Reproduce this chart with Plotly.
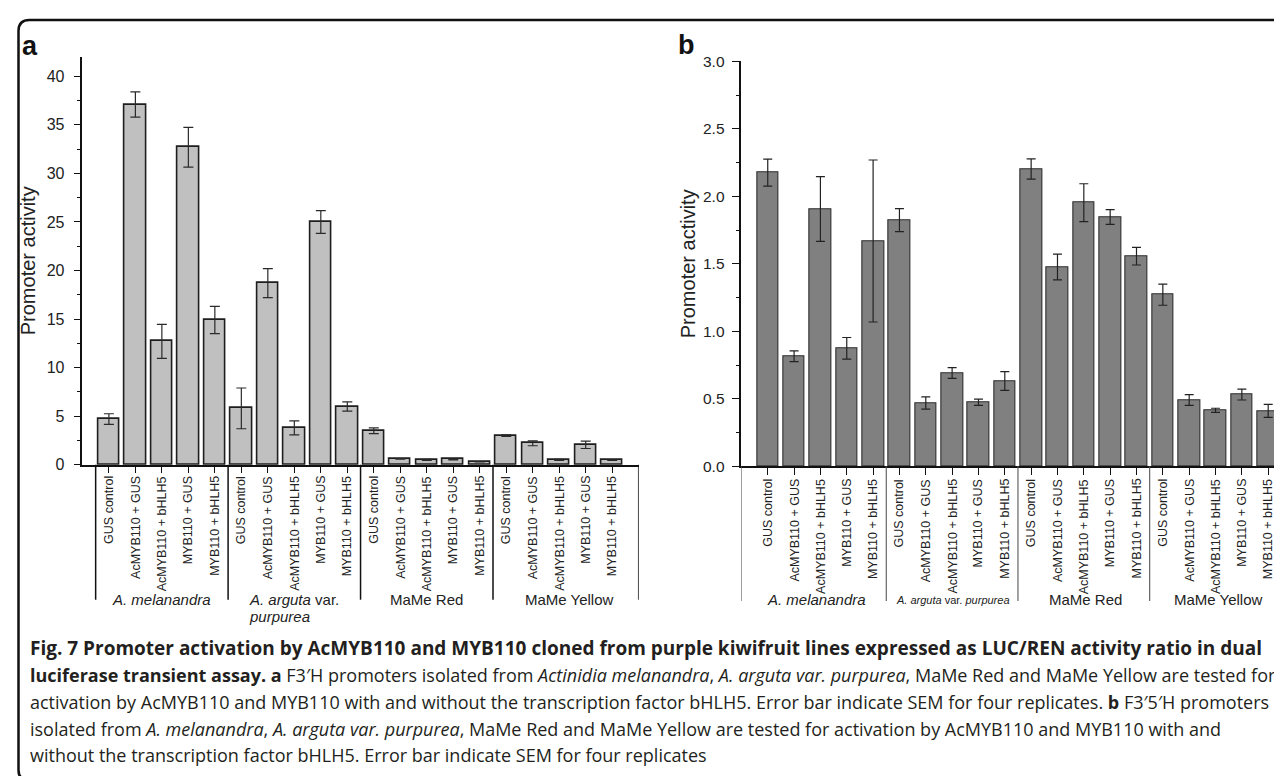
import plotly.graph_objects as go

W, H = 1282, 776

# ---------------- data ----------------
treatments = ["GUS control", "AcMYB110 + GUS", "AcMYB110 + bHLH5", "MYB110 + GUS", "MYB110 + bHLH5"]
groups = ["A. melanandra", "A. arguta var. purpurea", "MaMe Red", "MaMe Yellow"]
categories = treatments * len(groups)

a_vals = [4.7, 37.1, 12.7, 32.7, 14.9,
          5.8, 18.7, 3.8, 25.0, 6.0,
          3.5, 0.6, 0.5, 0.55, 0.3,
          3.0, 2.2, 0.5, 2.05, 0.45]
a_err = [0.55, 1.3, 1.75, 2.05, 1.4,
         2.1, 1.5, 0.72, 1.17, 0.48,
         0.29, 0.03, 0.05, 0.05, 0.02,
         0.08, 0.25, 0.05, 0.38, 0.02]

b_vals = [2.175, 0.815, 1.906, 0.874, 1.669,
          1.824, 0.469, 0.691, 0.474, 0.632,
          2.202, 1.476, 1.953, 1.847, 1.556,
          1.271, 0.491, 0.415, 0.531, 0.41]
b_err = [0.10, 0.04, 0.24, 0.08, 0.60,
         0.085, 0.045, 0.04, 0.023, 0.07,
         0.075, 0.095, 0.14, 0.055, 0.065,
         0.078, 0.04, 0.015, 0.04, 0.048]

a_yticks = [0, 5, 10, 15, 20, 25, 30, 35, 40]
b_yticks = [0.0, 0.5, 1.0, 1.5, 2.0, 2.5, 3.0]

caption_lines = [
    "<b>Fig. 7 Promoter activation by AcMYB110 and MYB110 cloned from purple kiwifruit lines expressed as LUC/REN activity ratio in dual</b>",
    "<b>luciferase transient assay. a</b> F3\u2032H promoters isolated from <i>Actinidia melanandra</i>, <i>A. arguta var. purpurea</i>, MaMe Red and MaMe Yellow are tested for",
    "activation by AcMYB110 and MYB110 with and without the transcription factor bHLH5. Error bar indicate SEM for four replicates. <b>b</b> F3\u20325\u2032H promoters",
    "isolated from <i>A. melanandra</i>, <i>A. arguta var. purpurea</i>, MaMe Red and MaMe Yellow are tested for activation by AcMYB110 and MYB110 with and",
    "without the transcription factor bHLH5. Error bar indicate SEM for four replicates",
]

# ---------------- helpers ----------------
def px(x):
    return x / W

def py(y):
    return 1 - y / H

FONT = "Liberation Sans, Arial, sans-serif"
positions = list(range(len(categories)))

fig = go.Figure()

fig.add_trace(go.Bar(
    x=positions, y=a_vals, width=0.8,
    marker=dict(color="#c0c0c0", line=dict(color="#1e1e1e", width=1.6)),
    error_y=dict(type="data", array=a_err, color="#2a2a2a", thickness=1.2, width=5),
    xaxis="x", yaxis="y", showlegend=False,
))
fig.add_trace(go.Bar(
    x=positions, y=b_vals, width=0.82,
    marker=dict(color="#808080", line=dict(color="#2e2e2e", width=1.1)),
    error_y=dict(type="data", array=b_err, color="#222222", thickness=1.2, width=4.5),
    xaxis="x2", yaxis="y2", showlegend=False,
))

# geometry (pixels)
a_left, a_right, a_zero, a_top = 74.4, 630.7, 456.7, 48.9
b_left, b_right, b_zero, b_top = 733.4, 1282.0, 458.3, 53.3
b_xmax = -1 + (b_right - b_left) / 26.34

xcommon = dict(showline=True, linecolor="#111", linewidth=1.5, ticks="outside",
               ticklen=7, tickwidth=1.3, tickcolor="#111",
               showticklabels=False, tickvals=positions,
               showgrid=False, zeroline=False, automargin=False)

fig.update_layout(
    width=W, height=H, autosize=False,
    margin=dict(l=0, r=0, t=0, b=0),
    paper_bgcolor="white", plot_bgcolor="white",
    bargap=0,
    xaxis=dict(domain=[px(a_left), px(a_right)], range=[-1, 20], anchor="y", **xcommon),
    yaxis=dict(domain=[py(a_zero), py(a_top)], range=[0, 42], anchor="x",
               showline=True, linecolor="#111", linewidth=1.5,
               ticks="outside", ticklen=7, tickwidth=1.3, tickcolor="#111",
               tickvals=a_yticks, ticklabelstandoff=6,
               minor=dict(ticks="outside", ticklen=4, tickwidth=1, tickcolor="#111", dtick=2.5, showgrid=False),
               tickfont=dict(family=FONT, size=16, color="#222"),
               showgrid=False, zeroline=False,
               title=dict(text="Promoter activity", font=dict(family=FONT, size=20, color="#222"), standoff=6),
               automargin=False),
    xaxis2=dict(domain=[px(b_left), 1.0], range=[-1, b_xmax], anchor="y2", **xcommon),
    yaxis2=dict(domain=[py(b_zero), py(b_top)], range=[0, 3.0], anchor="x2",
                showline=True, linecolor="#111", linewidth=1.5,
                ticks="outside", ticklen=8, tickwidth=1.3, tickcolor="#111",
                tickvals=b_yticks, tickformat=".1f", ticklabelstandoff=4,
                minor=dict(ticks="outside", ticklen=4, tickwidth=1, tickcolor="#111", dtick=0.25, showgrid=False),
                tickfont=dict(family=FONT, size=15.5, color="#222"),
                showgrid=False, zeroline=False,
                title=dict(text="Promoter activity", font=dict(family=FONT, size=20, color="#222"), standoff=2),
                automargin=False),
)

shapes = []
# group separators panel a
for xs in [-0.5, 4.5, 9.5, 14.5, 20]:
    shapes.append(dict(type="line", xref="x", yref="paper", x0=xs, x1=xs,
                       y0=py(a_zero), y1=py(591.7), line=dict(color="#111", width=1.5)))
# group separators panel b
for xs in [-1, 4.5, 9.5, 14.5]:
    shapes.append(dict(type="line", xref="x2", yref="paper", x0=xs, x1=xs,
                       y0=py(b_zero), y1=py(593), line=dict(color="#555", width=1.1)))

# outer rounded frame
L, T, B, R, r = 10.5, 12, 773, 1295, 11
path = (f"M {px(R)},{py(T)} L {px(L + r)},{py(T)} Q {px(L)},{py(T)} {px(L)},{py(T + r)} "
        f"L {px(L)},{py(B - r)} Q {px(L)},{py(B)} {px(L + r)},{py(B)} L {px(R)},{py(B)}")
shapes.append(dict(type="path", xref="paper", yref="paper", path=path,
                   line=dict(color="#111", width=2.5)))
fig.update_layout(shapes=shapes)

ann = []
# rotated category labels (tick labels)
tfont = dict(family=FONT, size=12.5, color="#222")
for i, c in zip(positions, categories):
    ann.append(dict(xref="x", yref="paper", x=i, y=py(467), text=c, textangle=-90,
                    showarrow=False, font=tfont, xanchor="center", yanchor="top", borderpad=0))
    ann.append(dict(xref="x2", yref="paper", x=i, y=py(470), text=c, textangle=-90,
                    showarrow=False, font=tfont, xanchor="center", yanchor="top", borderpad=0))

gfont = dict(family=FONT, size=15, color="#222")
# panel a group labels
ann.append(dict(xref="x", yref="paper", x=2, y=py(591.7), text="<i>A. melanandra</i>",
                showarrow=False, font=gfont, xanchor="center", yanchor="middle"))
ann.append(dict(xref="x", yref="paper", x=5.2, y=py(591.7), text="<i>A. arguta</i> var.",
                showarrow=False, font=gfont, xanchor="left", yanchor="middle"))
ann.append(dict(xref="x", yref="paper", x=5.2, y=py(608.3), text="<i>purpurea</i>",
                showarrow=False, font=gfont, xanchor="left", yanchor="middle"))
ann.append(dict(xref="x", yref="paper", x=12, y=py(591.7), text=groups[2],
                showarrow=False, font=gfont, xanchor="center", yanchor="middle"))
ann.append(dict(xref="x", yref="paper", x=17.4, y=py(591.7), text=groups[3],
                showarrow=False, font=gfont, xanchor="center", yanchor="middle"))
# panel b group labels
ann.append(dict(xref="x2", yref="paper", x=1.85, y=py(591.7), text="<i>A. melanandra</i>",
                showarrow=False, font=gfont, xanchor="center", yanchor="middle"))
ann.append(dict(xref="x2", yref="paper", x=7.05, y=py(591.7), text="<i>A. arguta</i> var. <i>purpurea</i>",
                showarrow=False, font=dict(family=FONT, size=11, color="#222"), xanchor="center", yanchor="middle"))
ann.append(dict(xref="x2", yref="paper", x=12.05, y=py(591.7), text=groups[2],
                showarrow=False, font=gfont, xanchor="center", yanchor="middle"))
ann.append(dict(xref="x2", yref="paper", x=17.1, y=py(591.7), text=groups[3],
                showarrow=False, font=gfont, xanchor="center", yanchor="middle"))

# panel letters
ann.append(dict(xref="paper", yref="paper", x=px(12), y=py(38), text="<b>a</b>", showarrow=False,
                font=dict(family=FONT, size=27, color="#111"), xanchor="left", yanchor="middle"))
ann.append(dict(xref="paper", yref="paper", x=px(668), y=py(37), text="<b>b</b>", showarrow=False,
                font=dict(family=FONT, size=27, color="#111"), xanchor="left", yanchor="middle"))

# caption
cap_y = [640, 667, 694, 720.5, 747]
cap_size = [19, 18, 18, 18, 18]
for txt, yy, sz in zip(caption_lines, cap_y, cap_size):
    ann.append(dict(xref="paper", yref="paper", x=px(20), y=py(yy), text=txt, showarrow=False,
                    font=dict(family="Open Sans, sans-serif", size=sz, color="#231f20"),
                    xanchor="left", yanchor="middle", align="left"))

fig.update_layout(annotations=ann)

fig.write_html("out.html")
